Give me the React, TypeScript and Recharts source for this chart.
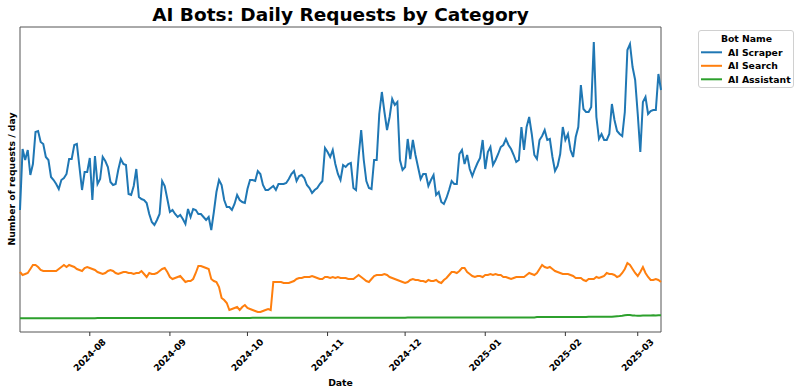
import { LineChart, Line, XAxis, YAxis, ReferenceArea, Legend } from "recharts";

// daily series start on this date (UTC), one value per day
const startDate = "2024-07-05";

const seriesNames = ["AI Scraper", "AI Search", "AI Assistant"];
const seriesColors = ["#1f77b4", "#ff7f0e", "#2ca02c"];

const monthTicks = [
  "2024-08-01",
  "2024-09-01",
  "2024-10-01",
  "2024-11-01",
  "2024-12-01",
  "2025-01-01",
  "2025-02-01",
  "2025-03-01",
];

// requests / day (relative units)
const aiScraper = [
  122, 183, 172, 182, 157, 168, 200, 201, 190, 188,
  175, 172, 155, 152, 148, 143, 152, 154, 158, 173,
  173, 187, 188, 165, 142, 160, 160, 174, 132, 176,
  148, 153, 175, 171, 165, 150, 147, 148, 162, 173,
  168, 167, 138, 137, 146, 163, 135, 133, 132, 129,
  118, 110, 107, 112, 118, 151, 146, 133, 120, 122,
  118, 115, 117, 113, 108, 123, 115, 123, 122, 118,
  118, 115, 112, 115, 102, 120, 140, 152, 147, 132,
  125, 125, 122, 128, 137, 132, 130, 129, 143, 152,
  152, 151, 161, 158, 147, 142, 142, 144, 146, 142,
  148, 148, 148, 149, 153, 158, 161, 151, 156, 157,
  154, 147, 144, 139, 142, 144, 148, 151, 184, 180,
  175, 182, 168, 158, 152, 167, 165, 168, 169, 144,
  142, 175, 202, 172, 151, 144, 143, 172, 172, 218,
  240, 220, 202, 215, 233, 227, 230, 172, 162, 165,
  193, 173, 192, 177, 165, 153, 158, 158, 146, 152,
  157, 137, 140, 130, 128, 134, 142, 151, 148, 148,
  178, 182, 168, 177, 163, 156, 163, 169, 174, 192,
  163, 180, 185, 167, 172, 178, 185, 187, 193, 187,
  183, 177, 170, 172, 205, 182, 205, 215, 198, 177,
  173, 192, 196, 202, 192, 193, 175, 161, 166, 178,
  205, 192, 198, 182, 175, 195, 205, 247, 223, 220,
  220, 225, 290, 215, 193, 198, 192, 192, 198, 228,
  212, 201, 198, 196, 220, 282, 288, 265, 252, 218,
  180, 230, 235, 218, 221, 222, 222, 258, 242,
];

const aiSearch = [
  60, 57, 58, 59, 63, 67, 67, 65, 62, 61,
  61, 61, 61, 61, 61, 63, 65, 67, 65, 67,
  66, 65, 63, 62, 61, 64, 65, 64, 63, 62,
  60, 59, 58, 59, 61, 62, 61, 59, 58, 59,
  60, 60, 59, 59, 58, 59, 59, 61, 58, 55,
  59, 58, 58, 59, 61, 63, 64, 60, 55, 53,
  54, 55, 56, 53, 50, 51, 51, 53, 59, 66,
  66, 65, 64, 63, 53, 51, 50, 45, 34, 32,
  29, 22, 23, 24, 25, 22, 25, 27, 24, 23,
  22, 21, 20, 20, 21, 22, 23, 22, 50, 50,
  50, 50, 49, 49, 49, 50, 51, 53, 54, 54,
  55, 55, 55, 56, 55, 54, 53, 53, 55, 55,
  54, 55, 54, 55, 54, 54, 54, 53, 53, 53,
  55, 57, 55, 53, 51, 50, 53, 56, 57, 57,
  57, 58, 57, 55, 54, 53, 52, 51, 50, 49,
  50, 52, 53, 52, 52, 51, 51, 50, 52, 51,
  51, 52, 50, 49, 52, 54, 57, 60, 60, 59,
  61, 64, 64, 60, 58, 56, 55, 56, 56, 55,
  57, 57, 58, 57, 58, 57, 57, 55, 55, 54,
  53, 54, 55, 55, 55, 55, 57, 59, 58, 57,
  59, 63, 67, 65, 64, 65, 63, 61, 60, 59,
  58, 58, 58, 57, 56, 54, 54, 54, 52, 51,
  53, 53, 53, 55, 54, 55, 56, 59, 58, 58,
  57, 55, 56, 59, 63, 69, 67, 63, 59, 56,
  60, 65, 59, 55, 52, 52, 53, 52, 50,
];

const aiAssistant = [
  13.8, 13.8, 13.8, 13.8, 13.8, 13.8, 13.8, 13.8, 13.8, 13.8,
  13.8, 13.8, 13.8, 13.8, 13.8, 13.8, 13.8, 13.8, 13.8, 13.8,
  13.8, 13.8, 13.8, 13.8, 13.8, 13.8, 13.8, 13.8, 13.8, 13.8,
  13.9, 13.9, 13.9, 13.9, 13.9, 13.9, 13.9, 13.9, 13.9, 13.9,
  13.9, 13.9, 13.9, 13.9, 13.9, 13.9, 13.9, 13.9, 13.9, 13.9,
  13.9, 13.9, 13.9, 13.9, 13.9, 13.9, 13.9, 13.9, 13.9, 13.9,
  14.0, 14.0, 14.0, 14.0, 14.0, 14.0, 14.0, 14.0, 14.0, 14.0,
  14.0, 14.0, 14.0, 14.0, 14.0, 14.0, 14.0, 14.0, 14.0, 14.0,
  14.0, 14.0, 14.0, 14.0, 14.0, 14.0, 14.0, 14.0, 14.0, 14.0,
  14.2, 14.2, 14.2, 14.2, 14.2, 14.2, 14.2, 14.2, 14.2, 14.2,
  14.2, 14.2, 14.2, 14.2, 14.2, 14.2, 14.2, 14.2, 14.2, 14.2,
  14.2, 14.2, 14.2, 14.2, 14.2, 14.2, 14.2, 14.2, 14.2, 14.2,
  14.3, 14.3, 14.3, 14.3, 14.3, 14.3, 14.3, 14.3, 14.3, 14.3,
  14.3, 14.3, 14.3, 14.3, 14.3, 14.3, 14.3, 14.3, 14.3, 14.3,
  14.3, 14.3, 14.3, 14.3, 14.3, 14.3, 14.3, 14.3, 14.3, 14.3,
  14.5, 14.5, 14.5, 14.5, 14.5, 14.5, 14.5, 14.5, 14.5, 14.5,
  14.5, 14.5, 14.5, 14.5, 14.5, 14.5, 14.5, 14.5, 14.5, 14.5,
  14.5, 14.5, 14.5, 14.5, 14.5, 14.5, 14.5, 14.5, 14.5, 14.5,
  14.6, 14.6, 14.6, 14.6, 14.6, 14.6, 14.6, 14.6, 14.6, 14.6,
  14.6, 14.6, 14.6, 14.6, 14.6, 14.6, 14.6, 14.6, 14.6, 14.6,
  14.9, 14.9, 14.9, 14.9, 14.9, 14.9, 14.9, 14.9, 14.9, 14.9,
  14.9, 14.9, 14.9, 14.9, 14.9, 14.9, 14.9, 14.9, 14.9, 14.9,
  15.2, 15.2, 15.2, 15.2, 15.2, 15.2, 15.2, 15.2, 15.2, 15.2,
  15.6, 15.8, 16.0, 16.3, 16.8, 17.0, 16.9, 16.6, 16.4, 16.3,
  16.3, 16.4, 16.5, 16.5, 16.6, 16.7, 16.6, 16.7, 16.8,
];

const DAY = 86400000;
const start = Date.parse(startDate + "T00:00:00Z");
const data = aiScraper.map((v, i) => ({
  date: start + i * DAY,
  scraper: v,
  search: aiSearch[i],
  assistant: aiAssistant[i],
}));
const end = data[data.length - 1].date;
const tickValues = monthTicks.map((d) => Date.parse(d + "T00:00:00Z"));
const seriesKeys = ["scraper", "search", "assistant"];

const FONT = "'DejaVu Sans', sans-serif";

const fmtMonth = (t: number) => {
  const d = new Date(t);
  return `${d.getUTCFullYear()}-${String(d.getUTCMonth() + 1).padStart(2, "0")}`;
};

const DateTick = ({ x, y, payload }: any) => (
  <g transform={`translate(${x},${y + 17}) rotate(-45)`}>
    <text
      textAnchor="middle"
      dominantBaseline="central"
      fontFamily={FONT}
      fontWeight="bold"
      fontSize={9}
      fill="#000"
    >
      {fmtMonth(payload.value)}
    </text>
  </g>
);

const BotLegend = () => (
  <svg width={96} height={58} style={{ display: "block" }}>
    <rect x={0.5} y={0.5} width={95} height={57} rx={2.5} fill="#fff" stroke="#d0d0d0" />
    <text x={48.5} y={12} textAnchor="middle" fontFamily={FONT} fontWeight="bold" fontSize={9.3}>
      Bot Name
    </text>
    {seriesNames.map((name, i) => (
      <g key={name}>
        <line x1={3} x2={24} y1={22.3 + i * 13.5} y2={22.3 + i * 13.5} stroke={seriesColors[i]} strokeWidth={2} />
        <text x={30} y={25.5 + i * 13.5} fontFamily={FONT} fontWeight="bold" fontSize={9.3}>
          {name}
        </text>
      </g>
    ))}
  </svg>
);

export default function App() {
  return (
    <div style={{ position: "fixed", left: 0, top: 0, width: 800, height: 390, background: "#fff" }}>
      <LineChart width={800} height={390} data={data} margin={{ top: 27, right: 139, bottom: 0, left: 20 }}>
        <XAxis
          dataKey="date"
          type="number"
          domain={[start, end]}
          ticks={tickValues}
          interval={0}
          height={58}
          tickSize={4}
          tickLine={{ stroke: "#333" }}
          axisLine={false}
          tick={<DateTick />}
        />
        <YAxis hide domain={[0, 305]} />
        <ReferenceArea x1={start} x2={end} y1={0} y2={305} fill="none" stroke="#555" strokeWidth={1} />
        {seriesKeys.map((k, i) => (
          <Line
            key={k}
            type="linear"
            dataKey={k}
            name={seriesNames[i]}
            stroke={seriesColors[i]}
            strokeWidth={2}
            dot={false}
            isAnimationActive={false}
          />
        ))}
        <Legend
          layout="horizontal"
          verticalAlign="middle"
          align="center"
          wrapperStyle={{ position: "absolute", left: 698, top: 30, width: 96, height: 58 }}
          content={() => <BotLegend />}
        />
      </LineChart>
      <svg
        width={800}
        height={390}
        style={{ position: "absolute", left: 0, top: 0, pointerEvents: "none" }}
      >
        <text x={340.5} y={21} textAnchor="middle" fontFamily={FONT} fontWeight="bold" fontSize={18.5}>
          AI Bots: Daily Requests by Category
        </text>
        <text
          x={15}
          y={179}
          transform="rotate(-90, 15, 179)"
          textAnchor="middle"
          fontFamily={FONT}
          fontWeight="bold"
          fontSize={9.3}
        >
          Number of requests / day
        </text>
        <text x={340.5} y={386} textAnchor="middle" fontFamily={FONT} fontWeight="bold" fontSize={9.3}>
          Date
        </text>
      </svg>
    </div>
  );
}
